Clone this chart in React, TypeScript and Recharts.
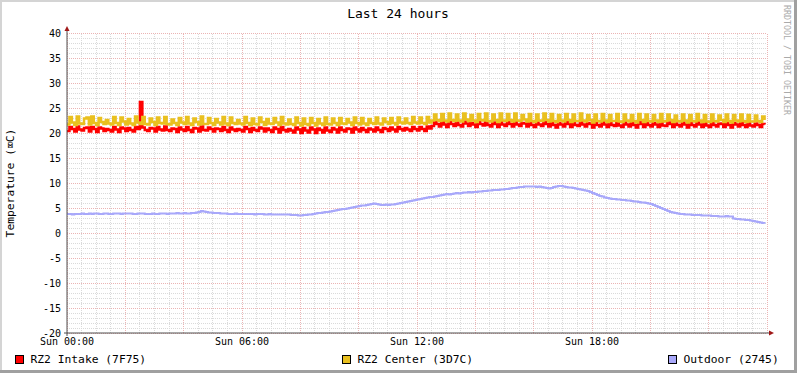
import React from 'react';
import { LineChart, Line, XAxis, YAxis, ReferenceLine } from 'recharts';

// 5-minute samples over the last 24 hours (288 per series), one row = one hour
const hourLabels = ['Sun 00:00', 'Sun 06:00', 'Sun 12:00', 'Sun 18:00'];
const labelIndex = [0, 72, 144, 216];
const tempTicks = [-20, -15, -10, -5, 0, 5, 10, 15, 20, 25, 30, 35, 40];

const intake = [
  20.4, 21.2, 20.8, 20.3, 21.3, 20.7, 20.5, 21.0, 21.1, 20.3, 21.2, 20.8,
  20.2, 21.1, 20.9, 20.4, 20.8, 20.6, 20.3, 21.2, 20.7, 20.2, 21.1, 20.9,
  20.4, 21.0, 20.6, 20.3, 21.2, 20.8, 26.2, 21.1, 20.6, 20.4, 21.0, 20.9,
  20.3, 21.2, 20.7, 20.5, 21.3, 20.6, 20.4, 20.9, 20.8, 20.2, 21.1, 20.7,
  20.4, 21.2, 20.6, 20.2, 21.0, 20.9, 20.3, 21.3, 20.6, 20.5, 21.1, 20.8,
  20.3, 20.9, 20.8, 20.4, 21.2, 20.6, 20.2, 21.1, 20.7, 20.4, 20.8, 20.6,
  20.3, 21.2, 20.8, 20.2, 21.0, 20.6, 20.4, 21.1, 20.9, 20.3, 20.9, 20.6,
  20.2, 21.1, 20.8, 20.1, 21.2, 20.6, 20.3, 20.8, 20.5, 20.1, 21.1, 20.7,
  20.0, 21.0, 20.5, 20.1, 21.1, 20.7, 20.0, 20.9, 20.6, 20.1, 21.1, 20.5,
  20.2, 21.0, 20.7, 20.1, 21.1, 20.6, 20.3, 20.9, 20.8, 20.1, 21.1, 20.7,
  20.3, 21.0, 20.6, 20.2, 20.9, 20.7, 20.3, 21.1, 20.6, 20.2, 21.0, 20.8,
  20.4, 21.1, 20.7, 20.3, 21.2, 20.8, 20.5, 21.0, 20.7, 20.4, 21.2, 20.8,
  20.5, 21.2, 20.8, 20.4, 21.3, 20.9, 21.4, 22.2, 21.8, 21.3, 22.3, 21.7,
  21.2, 22.2, 21.8, 21.4, 22.1, 21.6, 21.3, 22.3, 21.9, 21.4, 22.0, 21.7,
  21.2, 22.2, 21.8, 21.5, 22.3, 21.6, 21.3, 22.1, 21.8, 21.2, 22.3, 21.7,
  21.4, 22.2, 21.8, 21.3, 22.3, 21.7, 21.4, 22.0, 21.9, 21.3, 22.2, 21.6,
  21.2, 22.1, 21.7, 21.4, 22.3, 21.8, 21.3, 22.2, 21.6, 21.1, 22.0, 21.7,
  21.3, 22.2, 21.8, 21.2, 22.1, 21.6, 21.4, 22.3, 21.7, 21.3, 22.0, 21.8,
  21.1, 22.1, 21.6, 21.3, 22.2, 21.7, 21.2, 22.0, 21.6, 21.4, 22.2, 21.5,
  21.2, 22.1, 21.7, 21.3, 22.0, 21.6, 21.1, 22.2, 21.8, 21.2, 22.1, 21.6,
  21.3, 22.0, 21.7, 21.2, 22.2, 21.5, 21.4, 22.1, 21.8, 21.2, 21.9, 21.6,
  21.3, 22.1, 21.7, 21.1, 22.0, 21.6, 21.3, 22.2, 21.7, 21.2, 22.0, 21.5,
  21.2, 22.1, 21.6, 21.3, 21.9, 21.8, 21.2, 22.1, 21.6, 21.1, 22.0, 21.7,
  21.3, 22.1, 21.6, 21.2, 22.0, 21.5, 21.3, 21.9, 21.6, 21.2, 21.8, 21.7,
];

const center = [
  21.7, 23.2, 22.1, 21.6, 23.3, 21.9, 21.8, 22.9, 23.1, 21.7, 23.3, 22.0,
  21.6, 23.0, 22.2, 21.8, 22.6, 21.9, 21.7, 23.2, 22.0, 21.6, 23.1, 22.3,
  21.7, 22.8, 21.9, 21.6, 23.3, 22.1, 21.8, 23.2, 21.8, 21.7, 22.9, 22.2,
  21.6, 23.1, 22.0, 21.9, 23.2, 21.8, 21.7, 22.7, 22.0, 21.6, 23.0, 22.1,
  21.8, 23.2, 21.9, 21.6, 22.9, 22.2, 21.7, 23.3, 21.8, 21.8, 23.0, 22.0,
  21.6, 22.8, 22.1, 21.7, 23.2, 21.9, 21.6, 23.1, 22.0, 21.8, 22.6, 21.9,
  21.7, 23.2, 22.0, 21.6, 22.9, 21.8, 21.7, 23.1, 22.2, 21.6, 22.8, 21.9,
  21.8, 23.0, 22.1, 21.6, 23.2, 21.9, 21.7, 22.7, 21.8, 21.6, 23.1, 22.0,
  21.5, 22.9, 21.8, 21.6, 23.0, 22.0, 21.5, 22.8, 21.9, 21.6, 23.1, 21.8,
  21.7, 22.9, 22.0, 21.6, 23.0, 21.9, 21.8, 22.8, 22.1, 21.6, 23.1, 22.0,
  21.7, 23.0, 21.9, 21.6, 22.8, 22.0, 21.8, 23.1, 21.9, 21.7, 22.9, 22.2,
  21.8, 23.0, 22.0, 21.7, 23.1, 22.1, 21.9, 22.9, 22.0, 21.8, 23.2, 22.1,
  21.9, 23.1, 22.0, 21.8, 23.2, 22.1, 22.5, 23.7, 22.6, 22.4, 23.8, 22.5,
  22.3, 23.9, 22.6, 22.4, 23.7, 22.5, 22.3, 23.9, 22.7, 22.4, 23.6, 22.5,
  22.2, 23.8, 22.6, 22.5, 23.9, 22.4, 22.3, 23.7, 22.6, 22.2, 23.9, 22.5,
  22.4, 23.8, 22.6, 22.3, 23.9, 22.5, 22.4, 23.6, 22.7, 22.3, 23.8, 22.4,
  22.2, 23.7, 22.5, 22.4, 23.9, 22.6, 22.3, 23.8, 22.4, 22.2, 23.6, 22.5,
  22.3, 23.8, 22.6, 22.2, 23.7, 22.4, 22.4, 23.9, 22.5, 22.3, 23.6, 22.6,
  22.1, 23.7, 22.4, 22.3, 23.8, 22.5, 22.2, 23.6, 22.4, 22.4, 23.8, 22.3,
  22.2, 23.7, 22.5, 22.3, 23.6, 22.4, 22.1, 23.8, 22.6, 22.2, 23.7, 22.4,
  22.3, 23.6, 22.5, 22.2, 23.8, 22.3, 22.4, 23.7, 22.6, 22.2, 23.5, 22.4,
  22.3, 23.7, 22.5, 22.1, 23.6, 22.4, 22.3, 23.8, 22.5, 22.2, 23.6, 22.3,
  22.2, 23.7, 22.4, 22.3, 23.5, 22.6, 22.2, 23.7, 22.4, 22.1, 23.6, 22.5,
  22.3, 23.7, 22.4, 22.2, 23.6, 22.3, 22.3, 23.5, 22.4, 22.2, 23.3, 22.6,
];

const outdoor = [
  3.8, 3.8, 3.7, 3.8, 3.8, 3.8, 3.9, 3.8, 3.8, 3.9, 3.8, 3.9,
  3.9, 3.8, 3.8, 3.9, 3.9, 3.8, 3.8, 3.9, 3.9, 3.9, 3.8, 3.9,
  3.9, 3.9, 3.9, 3.8, 3.8, 3.9, 3.9, 3.9, 3.8, 3.8, 3.8, 3.9,
  3.8, 3.8, 3.9, 3.9, 3.9, 3.8, 3.9, 3.9, 3.9, 4.0, 3.9, 3.9,
  4.0, 3.9, 3.9, 4.0, 4.0, 4.1, 4.2, 4.4, 4.3, 4.2, 4.1, 4.1,
  4.0, 4.0, 4.0, 3.9, 3.9, 3.9, 3.8, 3.8, 3.8, 3.9, 3.8, 3.8,
  3.8, 3.8, 3.8, 3.8, 3.8, 3.7, 3.8, 3.8, 3.8, 3.7, 3.7, 3.8,
  3.7, 3.7, 3.7, 3.7, 3.7, 3.7, 3.7, 3.7, 3.6, 3.6, 3.6, 3.5,
  3.5, 3.6, 3.6, 3.7, 3.7, 3.8, 3.9, 4.0, 4.0, 4.1, 4.2, 4.2,
  4.3, 4.4, 4.5, 4.6, 4.7, 4.8, 4.8, 4.9, 5.0, 5.1, 5.2, 5.3,
  5.4, 5.5, 5.5, 5.6, 5.7, 5.8, 5.9, 5.8, 5.7, 5.6, 5.6, 5.7,
  5.6, 5.7, 5.7, 5.8, 5.9, 6.0, 6.1, 6.2, 6.3, 6.4, 6.5, 6.6,
  6.7, 6.8, 6.9, 7.0, 7.1, 7.2, 7.2, 7.3, 7.4, 7.5, 7.6, 7.7,
  7.8, 7.7, 7.8, 7.9, 8.0, 7.9, 8.0, 8.1, 8.1, 8.2, 8.1, 8.2,
  8.2, 8.3, 8.3, 8.4, 8.4, 8.5, 8.5, 8.6, 8.6, 8.6, 8.7, 8.7,
  8.8, 8.8, 8.9, 9.0, 9.0, 9.1, 9.2, 9.2, 9.3, 9.3, 9.3, 9.3,
  9.3, 9.2, 9.3, 9.2, 9.1, 9.0, 8.9, 9.0, 9.2, 9.3, 9.4, 9.4,
  9.3, 9.2, 9.1, 9.1, 9.0, 8.9, 8.8, 8.7, 8.6, 8.5, 8.4, 8.2,
  8.0, 7.8, 7.6, 7.4, 7.3, 7.1, 7.0, 6.9, 6.8, 6.8, 6.7, 6.7,
  6.6, 6.6, 6.5, 6.5, 6.4, 6.3, 6.3, 6.2, 6.1, 6.1, 6.0, 5.9,
  5.8, 5.6, 5.4, 5.2, 5.0, 4.8, 4.6, 4.4, 4.2, 4.1, 4.0, 3.9,
  3.8, 3.8, 3.7, 3.7, 3.7, 3.6, 3.6, 3.6, 3.6, 3.5, 3.5, 3.5,
  3.5, 3.4, 3.4, 3.4, 3.3, 3.3, 3.3, 3.4, 3.3, 3.3, 2.9, 2.8,
  2.8, 2.7, 2.7, 2.6, 2.6, 2.5, 2.4, 2.3, 2.2, 2.1, 2.0, 1.9,
];

const RED = '#ff0000';
const YELLOW = '#e9c01f';
const LAVENDER = '#a8a8fa';
const MONO = '"DejaVu Sans Mono", monospace';

const data = intake.map((v, i) => ({ i, intake: v, center: center[i], outdoor: outdoor[i] }));

// grid: 1 degree / 30 min minor, 5 degree / 2 h major
const minorY = Array.from({ length: 61 }, (_, k) => k - 20).filter((v) => v % 5 !== 0);
const majorY = tempTicks;
const minorX = Array.from({ length: 49 }, (_, k) => k * 6).filter((v) => v % 24 !== 0);
const majorX = Array.from({ length: 13 }, (_, k) => k * 24);

const App: React.FC = () => {
  return (
    <div style={{ position: 'absolute', left: 0, top: 0, width: 797, height: 373, background: '#fff' }}>
      <LineChart width={797} height={373} data={data} margin={{ top: 33, right: 30, bottom: 20, left: 0 }}>
        {minorY.map((v) => (
          <ReferenceLine key={`my${v}`} y={v} stroke="#dadada" strokeDasharray="1 1" shapeRendering="crispEdges" />
        ))}
        {minorX.map((v) => (
          <ReferenceLine key={`mx${v}`} x={v} stroke="#dadada" strokeDasharray="1 1" shapeRendering="crispEdges" />
        ))}
        {majorY.map((v) => (
          <ReferenceLine key={`My${v}`} y={v} stroke="#ebb4b4" strokeDasharray="1 1" shapeRendering="crispEdges" />
        ))}
        {majorX.map((v) => (
          <ReferenceLine key={`Mx${v}`} x={v} stroke="#ebb4b4" strokeDasharray="1 1" shapeRendering="crispEdges" />
        ))}
        <XAxis
          type="number"
          dataKey="i"
          domain={[0, 288]}
          ticks={labelIndex}
          tickFormatter={(v: number) => hourLabels[labelIndex.indexOf(v)] ?? ''}
          height={20}
          axisLine={false}
          tickLine={false}
          tickSize={2}
          tickMargin={3}
          tick={{ fontSize: 10, fill: '#000', fontFamily: MONO }}
          interval={0}
        />
        <YAxis
          type="number"
          domain={[-20, 40]}
          ticks={tempTicks}
          width={67}
          axisLine={false}
          tickLine={false}
          tickSize={4}
          tickMargin={2}
          tick={{ fontSize: 10, fill: '#000', fontFamily: MONO }}
          interval={0}
        />
        <Line type="stepAfter" dataKey="intake" stroke={RED} strokeWidth={2.5} dot={false} isAnimationActive={false} />
        <Line type="stepAfter" dataKey="center" stroke={YELLOW} strokeWidth={2.5} dot={false} isAnimationActive={false} />
        <Line type="stepAfter" dataKey="outdoor" stroke={LAVENDER} strokeWidth={2} dot={false} isAnimationActive={false} />
      </LineChart>

      {/* rrdtool style frame, axes with arrows, title and legend */}
      <svg width={797} height={373} style={{ position: 'absolute', left: 0, top: 0, pointerEvents: 'none' }}>
        <rect x={0} y={0} width={797} height={2} fill="#d4d4d4" />
        <rect x={0} y={0} width={2} height={373} fill="#d4d4d4" />
        <rect x={794} y={0} width={3} height={373} fill="#a0a0a0" />
        <rect x={0} y={370} width={797} height={3} fill="#a0a0a0" />

        <line x1={67} y1={336} x2={67} y2={29} stroke="#505050" strokeWidth={1} />
        <line x1={64} y1={333} x2={770} y2={333} stroke="#505050" strokeWidth={1} />
        <polygon points="64.5,31 69.5,31 67,26" fill="#a01818" />
        <polygon points="769,330.5 769,335.5 774,333" fill="#a01818" />

        <text x={398} y={18} textAnchor="middle" fontFamily={MONO} fontSize={13} fill="#000">
          Last 24 hours
        </text>
        <text
          x={14}
          y={183}
          textAnchor="middle"
          fontFamily={MONO}
          fontSize={11.3}
          fill="#000"
          transform="rotate(-90, 14, 183)"
        >
          Temperature (⌧C)
        </text>
        <text x={784} y={5} fontFamily={MONO} fontSize={8.3} fill="#aaaaaa" transform="rotate(90, 784, 5)">
          RRDTOOL / TOBI OETIKER
        </text>

        <rect x={15.5} y={355.5} width={8} height={8} fill={RED} stroke="#000" />
        <text x={30.5} y={363} fontFamily={MONO} fontSize={11.3} fill="#000">
          RZ2 Intake (7F75)
        </text>
        <rect x={342.5} y={355.5} width={8} height={8} fill={YELLOW} stroke="#000" />
        <text x={357.5} y={363} fontFamily={MONO} fontSize={11.3} fill="#000">
          RZ2 Center (3D7C)
        </text>
        <rect x={668.5} y={355.5} width={8} height={8} fill={LAVENDER} stroke="#000" />
        <text x={683.5} y={363} fontFamily={MONO} fontSize={11.3} fill="#000">
          Outdoor (2745)
        </text>
      </svg>
    </div>
  );
};

export default App;
